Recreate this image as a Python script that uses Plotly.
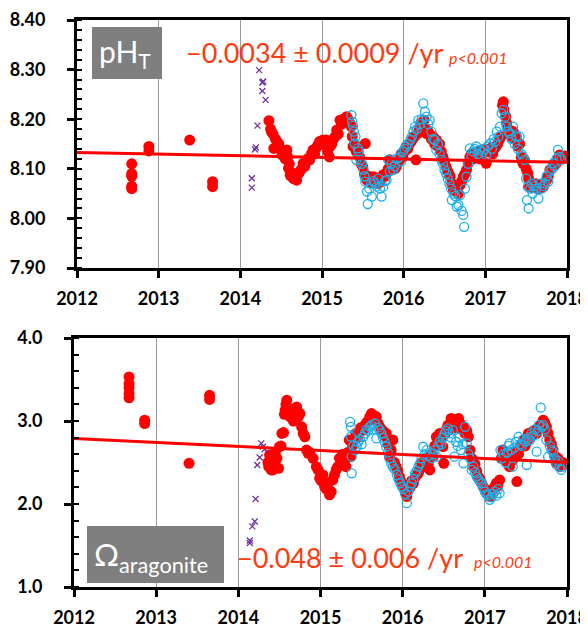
import plotly.graph_objects as go

W, H = 588, 627
OFF = 8  # page body margin in the browser
FW, FH = W - OFF, H - OFF

# ---------------- pH_T panel data ----------------
ph_red_x = [2012.67, 2012.67, 2012.67, 2012.67, 2012.67, 2012.88, 2012.88, 2013.38, 2013.66, 2013.66,
            2014.35, 2014.37, 2014.38, 2014.40, 2014.41, 2014.43, 2014.45, 2014.47, 2014.49, 2014.51,
            2014.53, 2014.55, 2014.57, 2014.58, 2014.59, 2014.60, 2014.61, 2014.63, 2014.65, 2014.67,
            2014.69, 2014.71, 2014.73, 2014.75, 2014.77, 2014.79, 2014.81, 2014.83, 2014.85, 2014.87,
            2014.89, 2014.91, 2014.93, 2014.95, 2014.97, 2014.99, 2015.01, 2015.03, 2015.05, 2015.07,
            2015.09, 2015.10, 2015.12, 2015.14, 2015.16, 2015.18, 2015.20, 2015.22, 2015.24, 2015.26,
            2015.28, 2015.30, 2015.32, 2015.34, 2015.36, 2015.37, 2015.38, 2015.40, 2015.42, 2015.44,
            2015.46, 2015.48, 2015.50, 2015.52, 2015.53, 2015.55, 2015.57, 2015.59, 2015.61, 2015.63,
            2015.65, 2015.67, 2015.69, 2015.71, 2015.73, 2015.75, 2015.77, 2015.79, 2015.81, 2015.83,
            2015.85, 2015.87, 2015.89, 2015.91, 2015.93, 2015.95, 2015.97, 2015.99, 2016.01, 2016.03,
            2016.05, 2016.07, 2016.09, 2016.11, 2016.13, 2016.15, 2016.17, 2016.19, 2016.21, 2016.23,
            2016.25, 2016.27, 2016.28, 2016.30, 2016.32, 2016.34, 2016.36, 2016.38, 2016.40, 2016.42,
            2016.44, 2016.46, 2016.48, 2016.50, 2016.52, 2016.54, 2016.56, 2016.57, 2016.59, 2016.61,
            2016.63, 2016.65, 2016.67, 2016.69, 2016.71, 2016.73, 2016.75, 2016.77, 2016.79, 2016.81,
            2016.83, 2016.85, 2016.87, 2016.89, 2016.91, 2016.93, 2016.95, 2016.97, 2016.99, 2017.01,
            2017.03, 2017.05, 2017.07, 2017.09, 2017.11, 2017.13, 2017.15, 2017.17, 2017.19, 2017.21,
            2017.22, 2017.23, 2017.25, 2017.26, 2017.28, 2017.30, 2017.32, 2017.34, 2017.36, 2017.38,
            2017.40, 2017.42, 2017.44, 2017.46, 2017.48, 2017.50, 2017.52, 2017.53, 2017.54, 2017.56,
            2017.58, 2017.60, 2017.62, 2017.63, 2017.65, 2017.67, 2017.69, 2017.71, 2017.73, 2017.75,
            2017.77, 2017.79, 2017.81, 2017.83, 2017.85, 2017.87, 2017.89, 2017.91, 2017.93, 2017.95,
            2017.97]
ph_red_y = [8.060, 8.065, 8.085, 8.090, 8.110, 8.136, 8.145, 8.158, 8.064, 8.074,
            8.197, 8.180, 8.175, 8.170, 8.141, 8.160, 8.155, 8.150, 8.140, 8.128,
            8.135, 8.120, 8.138, 8.124, 8.101, 8.110, 8.087, 8.092, 8.080, 8.085,
            8.077, 8.090, 8.095, 8.100, 8.111, 8.105, 8.115, 8.121, 8.118, 8.130,
            8.138, 8.130, 8.142, 8.148, 8.155, 8.150, 8.158, 8.150, 8.158, 8.135,
            8.124, 8.145, 8.150, 8.160, 8.165, 8.178, 8.170, 8.198, 8.190, 8.200,
            8.195, 8.205, 8.200, 8.192, 8.185, 8.165, 8.145, 8.150, 8.135, 8.140,
            8.124, 8.110, 8.104, 8.090, 8.151, 8.077, 8.085, 8.080, 8.072, 8.084,
            8.078, 8.080, 8.070, 8.074, 8.082, 8.088, 8.085, 8.091, 8.100, 8.118,
            8.108, 8.112, 8.100, 8.104, 8.115, 8.118, 8.130, 8.124, 8.135, 8.145,
            8.140, 8.150, 8.155, 8.160, 8.165, 8.118, 8.171, 8.180, 8.192, 8.185,
            8.198, 8.180, 8.171, 8.175, 8.168, 8.160, 8.165, 8.150, 8.158, 8.145,
            8.150, 8.135, 8.124, 8.115, 8.104, 8.095, 8.088, 8.084, 8.070, 8.057,
            8.062, 8.055, 8.050, 8.067, 8.075, 8.084, 8.090, 8.098, 8.110, 8.124,
            8.130, 8.120, 8.131, 8.128, 8.135, 8.120, 8.124, 8.132, 8.140, 8.111,
            8.135, 8.138, 8.142, 8.130, 8.140, 8.145, 8.150, 8.158, 8.165, 8.228,
            8.235, 8.219, 8.205, 8.192, 8.180, 8.171, 8.165, 8.175, 8.160, 8.165,
            8.145, 8.150, 8.124, 8.111, 8.118, 8.100, 8.091, 8.080, 8.064, 8.070,
            8.062, 8.066, 8.070, 8.067, 8.060, 8.065, 8.062, 8.064, 8.072, 8.077,
            8.085, 8.098, 8.100, 8.105, 8.110, 8.111, 8.120, 8.128, 8.122, 8.124,
            8.126]

ph_blue_x = [2015.36, 2015.37, 2015.38, 2015.39, 2015.40, 2015.41, 2015.42, 2015.44, 2015.45, 2015.47,
             2015.49, 2015.51, 2015.52, 2015.53, 2015.55, 2015.56, 2015.58, 2015.60, 2015.61, 2015.63,
             2015.65, 2015.67, 2015.69, 2015.71, 2015.73, 2015.75, 2015.77, 2015.79, 2015.81, 2015.83,
             2015.85, 2015.87, 2015.89, 2015.91, 2015.93, 2015.95, 2015.97, 2015.99, 2016.01, 2016.03,
             2016.05, 2016.08, 2016.10, 2016.12, 2016.14, 2016.16, 2016.18, 2016.20, 2016.22, 2016.24,
             2016.26, 2016.28, 2016.30, 2016.32, 2016.34, 2016.36, 2016.38, 2016.40, 2016.42, 2016.44,
             2016.46, 2016.48, 2016.50, 2016.52, 2016.54, 2016.56, 2016.58, 2016.59, 2016.61, 2016.63,
             2016.65, 2016.67, 2016.69, 2016.71, 2016.73, 2016.74, 2016.75, 2016.77, 2016.79, 2016.81,
             2016.83, 2016.85, 2016.87, 2016.89, 2016.91, 2016.93, 2016.95, 2016.97, 2016.99, 2017.01,
             2017.03, 2017.06, 2017.08, 2017.10, 2017.12, 2017.14, 2017.16, 2017.18, 2017.20, 2017.22,
             2017.24, 2017.26, 2017.28, 2017.30, 2017.32, 2017.34, 2017.36, 2017.38, 2017.40, 2017.42,
             2017.44, 2017.46, 2017.48, 2017.50, 2017.51, 2017.52, 2017.53, 2017.55, 2017.57, 2017.58,
             2017.60, 2017.62, 2017.65, 2017.67, 2017.69, 2017.71, 2017.73, 2017.75, 2017.77, 2017.79,
             2017.81, 2017.83, 2017.85, 2017.87, 2017.89, 2017.91, 2017.93]
ph_blue_y = [8.208, 8.195, 8.187, 8.175, 8.151, 8.165, 8.118, 8.141, 8.135, 8.118,
             8.110, 8.098, 8.085, 8.074, 8.054, 8.029, 8.060, 8.070, 8.044, 8.075,
             8.070, 8.064, 8.080, 8.060, 8.044, 8.064, 8.075, 8.077, 8.118, 8.095,
             8.110, 8.098, 8.105, 8.120, 8.121, 8.124, 8.115, 8.135, 8.140, 8.145,
             8.150, 8.158, 8.165, 8.175, 8.185, 8.180, 8.198, 8.190, 8.200, 8.232,
             8.215, 8.205, 8.190, 8.198, 8.175, 8.160, 8.158, 8.138, 8.150, 8.130,
             8.118, 8.110, 8.098, 8.090, 8.080, 8.070, 8.060, 8.037, 8.050, 8.045,
             8.024, 8.027, 8.047, 8.015, 8.007, 7.983, 8.060, 8.084, 8.110, 8.141,
             8.125, 8.135, 8.140, 8.145, 8.130, 8.138, 8.125, 8.134, 8.140, 8.128,
             8.145, 8.151, 8.140, 8.160, 8.155, 8.175, 8.165, 8.185, 8.212, 8.219,
             8.205, 8.185, 8.175, 8.171, 8.160, 8.185, 8.150, 8.165, 8.140, 8.165,
             8.130, 8.125, 8.118, 8.080, 8.037, 8.064, 8.020, 8.060, 8.070, 8.050,
             8.065, 8.060, 8.040, 8.070, 8.060, 8.065, 8.070, 8.085, 8.074, 8.095,
             8.100, 8.111, 8.105, 8.120, 8.138, 8.124, 8.118]

ph_x_marks_x = [2014.14, 2014.14, 2014.18, 2014.19, 2014.21, 2014.23, 2014.27, 2014.27, 2014.28, 2014.31]
ph_x_marks_y = [8.081, 8.062, 8.139, 8.143, 8.187, 8.299, 8.274, 8.257, 8.276, 8.239]

ph_trend_x = [2012.0, 2018.0]
ph_trend_y = [8.133, 8.113]

# ---------------- Omega aragonite panel data ----------------
om_red_x = [2012.67, 2012.67, 2012.67, 2012.67, 2012.67, 2012.86, 2012.86, 2013.40, 2013.65, 2013.65,
            2014.36, 2014.37, 2014.38, 2014.40, 2014.41, 2014.42, 2014.44, 2014.45, 2014.47, 2014.49,
            2014.50, 2014.52, 2014.53, 2014.55, 2014.56, 2014.57, 2014.58, 2014.59, 2014.61, 2014.62,
            2014.63, 2014.65, 2014.67, 2014.69, 2014.71, 2014.73, 2014.75, 2014.77, 2014.79, 2014.81,
            2014.83, 2014.85, 2014.87, 2014.91, 2014.95, 2014.97, 2014.99, 2015.01, 2015.03, 2015.05,
            2015.07, 2015.09, 2015.11, 2015.13, 2015.15, 2015.17, 2015.19, 2015.21, 2015.23, 2015.25,
            2015.27, 2015.29, 2015.31, 2015.33, 2015.35, 2015.37, 2015.39, 2015.41, 2015.43, 2015.45,
            2015.47, 2015.49, 2015.52, 2015.54, 2015.56, 2015.58, 2015.60, 2015.62, 2015.64, 2015.66,
            2015.68, 2015.70, 2015.72, 2015.74, 2015.76, 2015.78, 2015.80, 2015.82, 2015.84, 2015.86,
            2015.88, 2015.90, 2015.92, 2015.94, 2015.96, 2015.97, 2015.99, 2016.01, 2016.03, 2016.05,
            2016.07, 2016.09, 2016.11, 2016.13, 2016.15, 2016.17, 2016.19, 2016.21, 2016.23, 2016.25,
            2016.27, 2016.29, 2016.31, 2016.33, 2016.35, 2016.37, 2016.39, 2016.41, 2016.43, 2016.45,
            2016.47, 2016.49, 2016.50, 2016.52, 2016.53, 2016.55, 2016.57, 2016.59, 2016.61, 2016.63,
            2016.65, 2016.68, 2016.70, 2016.72, 2016.74, 2016.76, 2016.78, 2016.80, 2016.82, 2016.84,
            2016.86, 2016.88, 2016.90, 2016.92, 2016.94, 2016.96, 2016.98, 2017.00, 2017.02, 2017.04,
            2017.06, 2017.08, 2017.10, 2017.12, 2017.14, 2017.16, 2017.18, 2017.20, 2017.22, 2017.24,
            2017.26, 2017.28, 2017.30, 2017.32, 2017.34, 2017.36, 2017.39, 2017.41, 2017.43, 2017.45,
            2017.47, 2017.49, 2017.51, 2017.53, 2017.55, 2017.57, 2017.59, 2017.61, 2017.63, 2017.65,
            2017.67, 2017.69, 2017.71, 2017.73, 2017.75, 2017.77, 2017.79, 2017.81, 2017.83, 2017.85,
            2017.87, 2017.89, 2017.91, 2017.93, 2017.95, 2017.97]
om_red_y = [3.28, 3.33, 3.40, 3.45, 3.53, 2.97, 3.01, 2.49, 3.26, 3.31,
            2.50, 2.45, 2.59, 2.41, 2.55, 2.41, 2.48, 2.62, 2.55, 2.43,
            2.69, 2.70, 2.85, 2.86, 3.08, 3.13, 3.20, 3.25, 3.15, 3.10,
            3.05, 3.12, 3.00, 3.10, 3.17, 3.05, 3.09, 2.93, 2.85, 2.81,
            2.65, 2.61, 2.62, 2.55, 2.45, 2.41, 2.31, 2.28, 2.35, 2.21,
            2.18, 2.25, 2.11, 2.15, 2.29, 2.35, 2.41, 2.45, 2.55, 2.53,
            2.60, 2.50, 2.45, 2.62, 2.77, 2.57, 2.70, 2.78, 2.85, 2.80,
            2.88, 2.92, 2.89, 2.95, 2.98, 3.00, 3.05, 3.09, 3.02, 3.06,
            3.05, 2.97, 2.93, 2.90, 2.88, 2.82, 2.85, 2.72, 2.57, 2.65,
            2.77, 2.50, 2.45, 2.40, 2.33, 2.29, 2.25, 2.21, 2.15, 2.09,
            2.18, 2.20, 2.28, 2.25, 2.32, 2.35, 2.37, 2.42, 2.50, 2.45,
            2.52, 2.55, 2.48, 2.41, 2.60, 2.57, 2.70, 2.81, 2.75, 2.85,
            2.80, 2.69, 2.49, 2.85, 2.89, 2.95, 2.90, 3.03, 2.98, 2.95,
            2.92, 3.03, 2.97, 2.90, 2.93, 2.85, 2.88, 2.81, 2.65, 2.55,
            2.45, 2.48, 2.40, 2.33, 2.30, 2.25, 2.21, 2.18, 2.15, 2.12,
            2.09, 2.15, 2.18, 2.21, 2.25, 2.22, 2.29, 2.55, 2.65, 2.60,
            2.52, 2.49, 2.45, 2.58, 2.53, 2.62, 2.27, 2.60, 2.68, 2.72,
            2.77, 2.70, 2.75, 2.85, 2.80, 2.82, 2.88, 2.89, 2.85, 2.92,
            2.95, 2.93, 3.01, 2.98, 2.93, 2.85, 2.77, 2.72, 2.65, 2.58,
            2.49, 2.55, 2.45, 2.50, 2.50, 2.48]

om_blue_x = [2015.36, 2015.37, 2015.37, 2015.38, 2015.38, 2015.40, 2015.42, 2015.44, 2015.46, 2015.48,
             2015.50, 2015.52, 2015.54, 2015.56, 2015.58, 2015.60, 2015.62, 2015.64, 2015.66, 2015.68,
             2015.70, 2015.72, 2015.74, 2015.76, 2015.78, 2015.80, 2015.82, 2015.84, 2015.86, 2015.88,
             2015.90, 2015.93, 2015.95, 2015.97, 2015.99, 2016.01, 2016.03, 2016.05, 2016.07, 2016.09,
             2016.11, 2016.13, 2016.15, 2016.17, 2016.19, 2016.21, 2016.23, 2016.25, 2016.27, 2016.29,
             2016.31, 2016.33, 2016.35, 2016.37, 2016.39, 2016.41, 2016.43, 2016.45, 2016.47, 2016.49,
             2016.51, 2016.53, 2016.55, 2016.57, 2016.59, 2016.61, 2016.63, 2016.65, 2016.67, 2016.69,
             2016.71, 2016.73, 2016.74, 2016.76, 2016.78, 2016.80, 2016.82, 2016.84, 2016.86, 2016.88,
             2016.90, 2016.92, 2016.94, 2016.96, 2016.98, 2017.00, 2017.02, 2017.04, 2017.06, 2017.08,
             2017.10, 2017.12, 2017.14, 2017.16, 2017.18, 2017.19, 2017.21, 2017.23, 2017.25, 2017.27,
             2017.29, 2017.30, 2017.32, 2017.34, 2017.36, 2017.38, 2017.41, 2017.43, 2017.45, 2017.47,
             2017.49, 2017.51, 2017.53, 2017.55, 2017.57, 2017.59, 2017.61, 2017.63, 2017.65, 2017.66,
             2017.68, 2017.70, 2017.71, 2017.73, 2017.75, 2017.77, 2017.79, 2017.81, 2017.83, 2017.85,
             2017.87, 2017.89, 2017.91, 2017.93, 2017.95]
om_blue_y = [2.99, 2.93, 2.81, 2.57, 2.37, 2.70, 2.65, 2.69, 2.75, 2.78,
             2.72, 2.81, 2.85, 2.90, 2.88, 2.93, 2.95, 2.90, 2.97, 2.79,
             2.92, 2.89, 2.85, 2.80, 2.75, 2.69, 2.62, 2.55, 2.49, 2.45,
             2.42, 2.35, 2.30, 2.25, 2.21, 2.18, 2.12, 2.01, 2.15, 2.21,
             2.25, 2.30, 2.37, 2.40, 2.45, 2.49, 2.55, 2.69, 2.60, 2.65,
             2.58, 2.62, 2.55, 2.60, 2.65, 2.57, 2.70, 2.75, 2.72, 2.80,
             2.85, 2.88, 2.91, 2.85, 2.80, 2.89, 2.57, 2.75, 2.70, 2.80,
             2.65, 2.72, 2.49, 2.93, 2.73, 2.60, 2.55, 2.41, 2.45, 2.38,
             2.33, 2.30, 2.27, 2.25, 2.20, 2.15, 2.12, 2.10, 2.05, 2.08,
             2.12, 2.15, 2.10, 2.18, 2.13, 2.65, 2.55, 2.60, 2.50, 2.62,
             2.70, 2.73, 2.65, 2.45, 2.68, 2.75, 2.81, 2.72, 2.70, 2.78,
             2.75, 2.47, 2.80, 2.77, 2.85, 2.82, 2.90, 2.63, 2.88, 2.95,
             3.16, 2.93, 2.95, 2.90, 2.77, 2.57, 2.70, 2.65, 2.63, 2.55,
             2.49, 2.52, 2.45, 2.41, 2.45]

om_x_marks_x = [2014.14, 2014.14, 2014.17, 2014.20, 2014.21, 2014.23, 2014.26, 2014.28, 2014.30, 2014.32]
om_x_marks_y = [1.56, 1.53, 1.73, 1.79, 2.06, 2.47, 2.56, 2.73, 2.69, 2.66]

om_trend_x = [2012.0, 2018.0]
om_trend_y = [2.79, 2.50]

year_ticks = [2012, 2013, 2014, 2015, 2016, 2017, 2018]

# ---------------- styling ----------------
RED = "#ff0000"
BLUE = "#1ab0ec"
PURPLE = "#7030a0"
TXT = "#ff3a10"
GRAY_BOX = "#7f7f7f"
FONT = "Lato"


def fx(p):
    return (p - OFF) / FW


def fy(p):
    return 1 - (p - OFF) / FH


fig = go.Figure()


def add_panel(xa, ya, rx, ry, bx, by, mx, my, tx, ty):
    fig.add_trace(go.Scatter(x=rx, y=ry, mode="markers", xaxis=xa, yaxis=ya,
                             marker=dict(color=RED, size=11, line=dict(width=0)),
                             showlegend=False, hoverinfo="skip"))
    fig.add_trace(go.Scatter(x=mx, y=my, mode="markers", xaxis=xa, yaxis=ya,
                             marker=dict(color=PURPLE, size=6, symbol="x-thin",
                                         line=dict(color=PURPLE, width=1.3)),
                             showlegend=False, hoverinfo="skip"))
    fig.add_trace(go.Scatter(x=bx, y=by, mode="markers", xaxis=xa, yaxis=ya,
                             marker=dict(color=BLUE, size=9, symbol="circle-open",
                                         line=dict(color=BLUE, width=1.3)),
                             showlegend=False, hoverinfo="skip"))
    fig.add_trace(go.Scatter(x=tx, y=ty, mode="lines", xaxis=xa, yaxis=ya,
                             line=dict(color=RED, width=3),
                             showlegend=False, hoverinfo="skip"))


add_panel("x", "y", ph_red_x, ph_red_y, ph_blue_x, ph_blue_y,
          ph_x_marks_x, ph_x_marks_y, ph_trend_x, ph_trend_y)
add_panel("x2", "y2", om_red_x, om_red_y, om_blue_x, om_blue_y,
          om_x_marks_x, om_x_marks_y, om_trend_x, om_trend_y)

tickfont = dict(family=FONT, size=18, color="black", weight="bold")

xcommon = dict(range=[2012, 2018], tickmode="array", tickvals=year_ticks,
               ticktext=[str(v) for v in year_ticks],
               showgrid=True, gridcolor="#9a9a9a", gridwidth=1,
               showline=True, linecolor="black", linewidth=3, mirror=True,
               ticks="outside", ticklen=7, tickwidth=2.5, tickcolor="black",
               tickfont=tickfont, zeroline=False, ticklabelstandoff=5)

ycommon = dict(showgrid=False, showline=True, linecolor="black", linewidth=3, mirror=True,
               ticks="outside", ticklen=7, tickwidth=2.5, tickcolor="black",
               tickfont=tickfont, zeroline=False, ticklabelstandoff=18)

fig.update_layout(
    width=FW, height=FH,
    margin=dict(l=0, r=0, t=0, b=0),
    paper_bgcolor="white", plot_bgcolor="white",
    template="none",
    xaxis=dict(domain=[fx(77), fx(567)], anchor="y", **xcommon),
    yaxis=dict(domain=[fy(268), fy(20)], anchor="x", range=[7.90, 8.40],
               tickmode="linear", tick0=7.9, dtick=0.1, tickformat=".2f",
               minor=dict(ticks="inside", ticklen=5, tickwidth=2, tickcolor="black",
                          dtick=0.02, tick0=7.9, showgrid=False),
               **ycommon),
    xaxis2=dict(domain=[fx(74), fx(567)], anchor="y2", **xcommon),
    yaxis2=dict(domain=[fy(587), fy(338)], anchor="x2", range=[1.0, 4.0],
                tickmode="linear", tick0=1.0, dtick=1.0, tickformat=".1f",
                minor=dict(ticks="inside", ticklen=5, tickwidth=2, tickcolor="black",
                           dtick=0.2, tick0=1.0, showgrid=False),
                **ycommon),
)

# gray label boxes
fig.add_shape(type="rect", xref="paper", yref="paper",
              x0=fx(92), x1=fx(162), y0=fy(79), y1=fy(27),
              fillcolor=GRAY_BOX, line=dict(width=0), layer="above")
fig.add_shape(type="rect", xref="paper", yref="paper",
              x0=fx(87), x1=fx(224), y0=fy(583), y1=fy(526),
              fillcolor=GRAY_BOX, line=dict(width=0), layer="above")

fig.add_annotation(xref="paper", yref="paper", x=fx(97), y=fy(53),
                   xanchor="left", yanchor="middle", showarrow=False,
                   text="pH<sub>T</sub>",
                   font=dict(family=FONT, size=30, color="white"))
fig.add_annotation(xref="paper", yref="paper", x=fx(92), y=fy(556),
                   xanchor="left", yanchor="middle", showarrow=False,
                   text="Ω<sub>aragonite</sub>",
                   font=dict(family=FONT, size=31, color="white"))

fig.add_annotation(xref="paper", yref="paper", x=fx(184), y=fy(52),
                   xanchor="left", yanchor="middle", showarrow=False,
                   text="−0.0034 ± 0.0009 /yr",
                   font=dict(family=FONT, size=27, color=TXT))
fig.add_annotation(xref="paper", yref="paper", x=fx(447), y=fy(57),
                   xanchor="left", yanchor="middle", showarrow=False,
                   text="<i>p<0.001</i>",
                   font=dict(family=FONT, size=16, color=TXT))

fig.add_annotation(xref="paper", yref="paper", x=fx(235), y=fy(557),
                   xanchor="left", yanchor="middle", showarrow=False,
                   text="−0.048 ± 0.006 /yr",
                   font=dict(family=FONT, size=27, color=TXT))
fig.add_annotation(xref="paper", yref="paper", x=fx(472), y=fy(561),
                   xanchor="left", yanchor="middle", showarrow=False,
                   text="<i>p<0.001</i>",
                   font=dict(family=FONT, size=16, color=TXT))

fig.write_html("out.html")
